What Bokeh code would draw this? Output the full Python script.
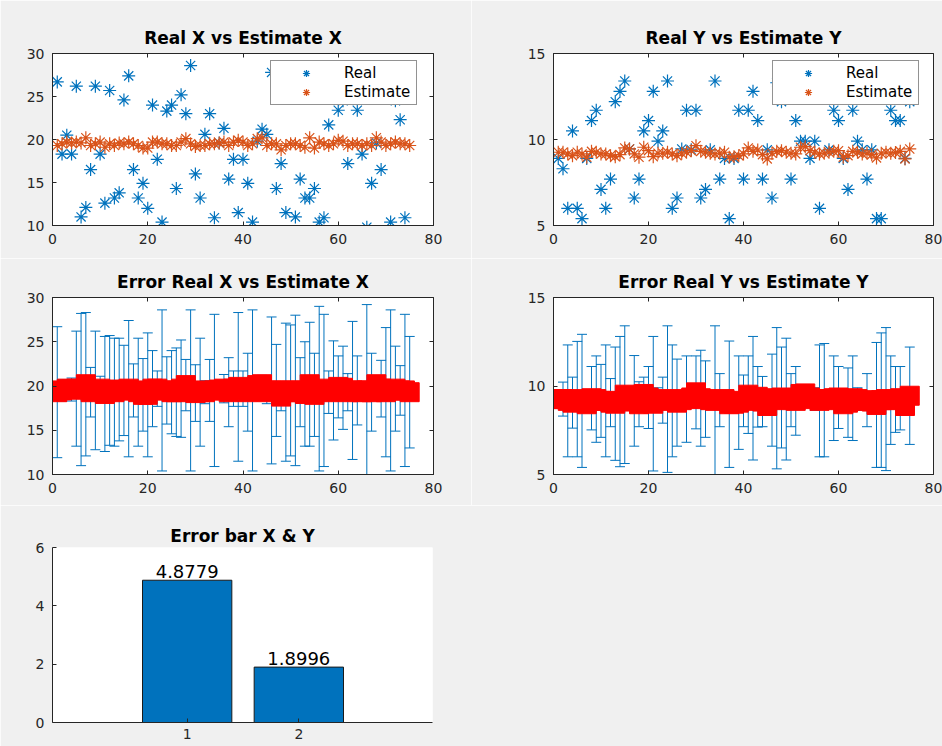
from bokeh.plotting import figure
from bokeh.layouts import column, row
from bokeh.models import (Range1d, LinearAxis, FixedTicker, Legend, LegendItem,
                          Whisker, ColumnDataSource, TeeHead, CustomLabelingPolicy)
from bokeh.embed import file_html
from bokeh.resources import INLINE
from bokeh.core.properties import value

# ---------------- data ----------------
idx = list(range(1, 76))

real_x = [26.7, 18.3, 20.5, 18.3, 26.2, 11.0, 12.1, 16.5, 26.2, 18.3,
          12.6, 25.7, 13.2, 13.8, 24.6, 27.4, 16.5, 13.2, 14.9, 12.0,
          24.0, 17.7, 10.4, 23.3, 24.0, 14.3, 25.2, 23.0, 28.6, 16.0,
          13.2, 20.6, 23.0, 10.9, 19.6, 21.3, 15.4, 17.7, 11.5, 17.7,
          14.9, 10.4, 19.8, 21.2, 20.6, 27.8, 14.3, 17.2, 11.5, 26.9,
          11.0, 15.4, 13.2, 13.2, 14.3, 10.4, 10.9, 21.7, 25.1, 23.4,
          24.5, 17.2, 27.3, 23.4, 18.3, 9.8, 14.9, 19.6, 16.5, 26.6,
          10.4, 24.5, 22.3, 10.9, 25.6]

est_x = [19.3, 19.5, 19.7, 19.6, 19.7, 19.6, 20.2, 19.3, 19.5, 19.7,
         19.1, 19.5, 19.3, 19.6, 19.5, 19.7, 19.5, 19.3, 19.0, 19.0,
         19.7, 19.7, 19.5, 19.5, 19.3, 19.3, 19.7, 20.1, 19.5, 19.2,
         19.3, 19.3, 19.5, 19.5, 19.6, 19.7, 19.3, 19.7, 19.9, 19.7,
         19.3, 19.5, 20.1, 20.2, 19.3, 19.5, 19.5, 18.8, 19.3, 19.5,
         19.5, 19.3, 19.1, 20.2, 19.0, 19.7, 19.5, 19.3, 19.5, 19.9,
         19.8, 19.3, 19.5, 19.5, 19.3, 19.5, 19.3, 20.2, 19.7, 19.3,
         19.5, 19.7, 19.5, 19.5, 19.3]

real_y = [8.9, 8.3, 6.0, 10.5, 6.0, 5.4, 8.9, 11.1, 11.7, 7.1,
          6.0, 7.7, 12.2, 12.8, 13.4, 9.45, 6.6, 7.7, 10.5, 11.1,
          12.8, 9.9, 10.5, 13.4, 6.0, 6.6, 9.45, 11.7, 9.4, 11.7,
          6.6, 7.1, 9.4, 13.4, 7.7, 8.9, 5.4, 8.9, 11.7, 7.7,
          11.7, 12.8, 11.1, 7.7, 9.4, 6.6, 13.3, 12.2, 12.7, 7.7,
          11.1, 9.9, 9.9, 8.9, 9.9, 6.0, 12.4, 9.4, 11.7, 11.1,
          8.9, 7.1, 11.7, 9.9, 9.4, 7.7, 9.4, 5.4, 5.4, 13.3,
          11.7, 11.1, 11.1, 8.9, 12.2]

est_y = [9.26, 9.26, 9.16, 9.06, 9.26, 9.16, 8.97, 9.31, 9.26, 9.16,
         9.16, 9.06, 9.00, 9.12, 9.51, 9.45, 9.16, 8.97, 9.55, 9.35,
         9.00, 9.20, 9.20, 9.26, 9.16, 9.06, 9.20, 9.26, 9.35, 9.64,
         9.31, 9.26, 9.20, 9.16, 9.20, 9.26, 8.97, 9.00, 9.06, 9.16,
         9.51, 9.31, 9.39, 9.12, 8.87, 9.20, 9.31, 9.35, 9.26, 9.20,
         9.16, 9.55, 9.58, 9.35, 9.26, 9.16, 9.20, 9.26, 9.31, 9.35,
         8.97, 9.06, 9.31, 9.26, 9.16, 9.20, 9.12, 8.93, 9.20, 9.26,
         9.20, 9.24, 9.31, 8.87, 9.45]

bar_cats = [1, 2]
bar_vals = [4.8779, 1.8996]
bar_labels = ["4.8779", "1.8996"]

ticks_x80 = [0, 20, 40, 60, 80]
ticks_x30 = [10, 15, 20, 25, 30]
ticks_y15 = [5, 10, 15]
ticks_bar_y = [0, 2, 4, 6]

# ---------------- style ----------------
FONT = "DejaVu Sans"
AX = "#262626"
BLUE = "#0072BD"
ORANGE = "#D95319"
BG = "#F0F0F0"


def style_axis(ax, ticks):
    ax.ticker = FixedTicker(ticks=ticks)
    ax.major_tick_in = 4
    ax.major_tick_out = 0
    ax.minor_tick_line_color = None
    ax.axis_line_color = AX
    ax.major_tick_line_color = AX
    ax.major_label_text_font = FONT
    ax.major_label_text_font_size = "14px"
    ax.major_label_text_color = AX


def make_fig(w, h, l, r, t, b, xr, yr, xt, yt, title, box=True):
    p = figure(width=w, height=h, x_range=Range1d(*xr), y_range=Range1d(*yr),
               output_backend="svg", toolbar_location=None,
               min_border_left=l, min_border_right=r,
               min_border_top=t, min_border_bottom=b, title=title)
    p.border_fill_color = BG
    p.background_fill_color = "white"
    p.grid.visible = False
    p.outline_line_color = AX if box else None
    p.title.align = "center"
    p.title.text_font = FONT
    p.title.text_font_size = "17px"
    p.title.text_font_style = "bold"
    p.title.text_color = "black"
    p.title.standoff = 3
    style_axis(p.xaxis[0], xt)
    style_axis(p.yaxis[0], yt)
    p.xaxis[0].major_label_standoff = 8
    p.yaxis[0].major_label_standoff = 8
    if box:
        for side, ticks in (("right", yt), ("above", xt)):
            a = LinearAxis(ticker=FixedTicker(ticks=ticks),
                           major_label_policy=CustomLabelingPolicy(code="return new Set()"),
                           major_label_text_font_size="1px",
                           major_label_standoff=0,
                           major_tick_in=4, major_tick_out=0,
                           minor_tick_line_color=None,
                           axis_line_color=None,
                           major_tick_line_color=AX)
            p.add_layout(a, side)
    return p


def add_legend(p, r1, r2, loc):
    leg = Legend(items=[LegendItem(label="Real", renderers=[r1]),
                        LegendItem(label="Estimate", renderers=[r2])],
                 location=loc)
    leg.label_text_font = FONT
    leg.label_text_font_size = "15px"
    leg.label_text_color = "black"
    leg.border_line_color = AX
    leg.border_line_width = 1
    leg.background_fill_color = "white"
    leg.background_fill_alpha = 1
    leg.padding = 3
    leg.margin = 0
    leg.spacing = 1
    leg.glyph_width = 64
    leg.glyph_height = 18
    leg.label_height = 18
    leg.label_width = 69
    leg.label_standoff = 6
    p.add_layout(leg)


# ---------------- top row ----------------
tl = make_fig(471, 258, 52, 38, 53, 33, (0, 80), (10, 30), ticks_x80, ticks_x30,
              "Real X vs Estimate X")
r1 = tl.scatter(idx, real_x, marker="asterisk", size=13, line_color=BLUE, line_width=1.2)
r2 = tl.scatter(idx, est_x, marker="asterisk", size=13, line_color=ORANGE, line_width=1.2)
add_legend(tl, r1, r2, (218, 120))

tr = make_fig(471, 258, 82, 9, 53, 33, (0, 80), (5, 15), ticks_x80, ticks_y15,
              "Real Y vs Estimate Y")
r3 = tr.scatter(idx, real_y, marker="asterisk", size=13, line_color=BLUE, line_width=1.2)
r4 = tr.scatter(idx, est_y, marker="asterisk", size=13, line_color=ORANGE, line_width=1.2)
add_legend(tr, r3, r4, (219, 120))


# ---------------- middle row ----------------
def err_plot(p, est, real):
    lower = [e - abs(r - e) for e, r in zip(est, real)]
    upper = [e + abs(r - e) for e, r in zip(est, real)]
    src = ColumnDataSource(dict(x=idx, est=est, lower=lower, upper=upper))
    wk = Whisker(source=src, base="x", lower="lower", upper="upper",
                 line_color=BLUE, line_width=1, level="underlay",
                 upper_head=TeeHead(size=10, line_color=BLUE, line_width=1),
                 lower_head=TeeHead(size=10, line_color=BLUE, line_width=1))
    p.add_layout(wk)
    p.scatter("x", "est", source=src, marker="square", size=19,
              fill_color="red", line_color="red")


ml = make_fig(471, 247, 52, 38, 39, 31, (0, 80), (10, 30), ticks_x80, ticks_x30,
              "Error Real X vs Estimate X")
err_plot(ml, est_x, real_x)

mr = make_fig(471, 247, 82, 9, 39, 31, (0, 80), (5, 15), ticks_x80, ticks_y15,
              "Error Real Y vs Estimate Y")
err_plot(mr, est_y, real_y)

# ---------------- bottom ----------------
bt = make_fig(942, 241, 52, 510, 42, 24, (-0.206, 3.197), (0, 6), bar_cats, ticks_bar_y,
              "Error bar X & Y", box=False)
bt.xaxis[0].major_label_standoff = 6
bsrc = ColumnDataSource(dict(x=bar_cats, top=bar_vals, lab=bar_labels))
bt.vbar(x="x", top="top", width=0.8, source=bsrc, fill_color=BLUE,
        line_color="#1a1a1a", line_width=1)
bt.text(x="x", y="top", text="lab", source=bsrc, text_align="center",
        text_baseline="bottom", y_offset=-2, text_font=value(FONT),
        text_font_size="18px", text_color="black")

layout = column(row(tl, tr), row(ml, mr), bt)

html = file_html(layout, INLINE, title="Error plots")
open("out.html", "w").write(html)
